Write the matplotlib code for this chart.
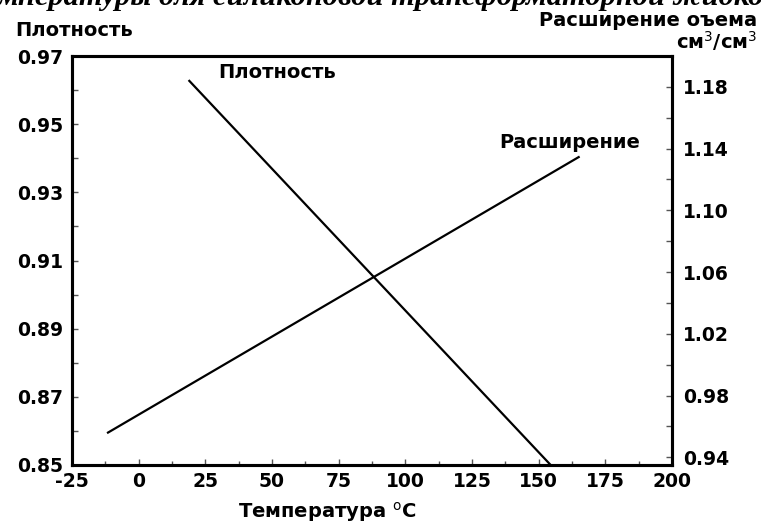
import matplotlib
matplotlib.use("Agg")
import matplotlib.pyplot as plt
from matplotlib.ticker import MultipleLocator, FixedLocator

# Data
density_temp = [19.0, 154.5]
density_vals = [0.9627, 0.850]
expansion_temp = [-11.5, 165.0]
expansion_vals = [0.956, 1.1345]

x_ticks = [-25, 0, 25, 50, 75, 100, 125, 150, 175, 200]
left_ticks = [0.85, 0.87, 0.89, 0.91, 0.93, 0.95, 0.97]
right_ticks = [0.94, 0.98, 1.02, 1.06, 1.10, 1.14, 1.18]

title_text = "мпературы для силиконовой трансформаторной жидко"

W, H = 761, 527
fig = plt.figure(figsize=(W / 100, H / 100), dpi=100)
ax = fig.add_axes([72 / W, 62 / H, 600 / W, 409 / H])
ax2 = ax.twinx()

for a in (ax, ax2):
    for s in a.spines.values():
        s.set_linewidth(2.2)

ax.plot(density_temp, density_vals, color="black", lw=1.6)
ax2.plot(expansion_temp, expansion_vals, color="black", lw=1.6)

ax.set_xlim(-25, 200)
ax.set_ylim(0.85, 0.97)
ax2.set_ylim(0.935, 1.20)

tick_font = dict(fontsize=13.5, fontweight="bold", family="DejaVu Sans")

ax.xaxis.set_major_locator(FixedLocator(x_ticks))
ax.xaxis.set_minor_locator(MultipleLocator(12.5))
ax.set_xticklabels([str(t) for t in x_ticks], **tick_font)

ax.yaxis.set_major_locator(FixedLocator(left_ticks))
ax.yaxis.set_minor_locator(MultipleLocator(0.01))
ax.set_yticklabels([f"{t:.2f}" for t in left_ticks], **tick_font)

ax2.yaxis.set_major_locator(FixedLocator(right_ticks))
ax2.yaxis.set_minor_locator(MultipleLocator(0.02))
ax2.set_yticklabels([f"{t:.2f}" for t in right_ticks], **tick_font)

ax.tick_params(axis="both", which="both", direction="in", length=4, width=1.0,
               colors="#555555", labelcolor="black")
ax.tick_params(axis="x", which="minor", length=3)
ax.tick_params(axis="x", pad=5)
ax.tick_params(axis="y", which="both", right=False, pad=6.5)
ax2.tick_params(axis="y", which="both", direction="in", length=4, width=1.0,
                pad=8, colors="#555555", labelcolor="black")

lab_font = dict(fontsize=14, fontweight="bold", family="DejaVu Sans", color="black")

fig.text(327 / W, 1 - 512 / H, "Температура $^{\\mathrm{o}}$C", ha="center", va="center", **lab_font)
fig.text(15 / W, 1 - 31 / H, "Плотность", ha="left", va="center", **lab_font)
fig.text(757 / W, 1 - 21 / H, "Расширение оъема", ha="right", va="center", **lab_font)
fig.text(757 / W, 1 - 41 / H, "см$^3$/см$^3$", ha="right", va="center", **lab_font)

fig.text(218 / W, 1 - 72 / H, "Плотность", ha="left", va="center", **lab_font)
fig.text(499 / W, 1 - 142 / H, "Расширение", ha="left", va="center", **lab_font)

t = fig.text(0.5, 1 - 5 / H, title_text, ha="center", va="baseline",
             fontsize=22, fontweight="bold", fontstyle="italic",
             family="Liberation Serif", color="black")
fig.canvas.draw()
bb = t.get_window_extent()
t.set_fontsize(22 * 765 / bb.width)

fig.savefig("out.png", dpi=100)
